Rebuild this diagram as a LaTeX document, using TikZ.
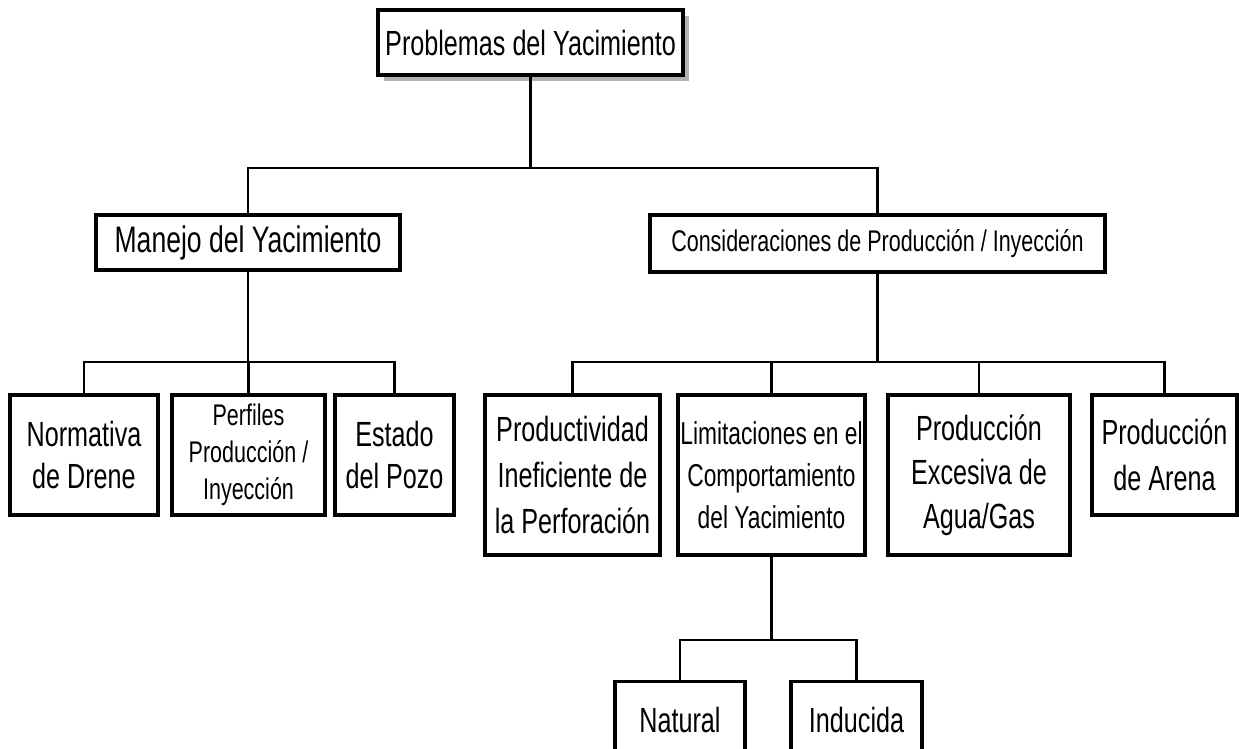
\documentclass[tikz,border=0pt]{standalone}
\usepackage{fontspec}
\setmainfont[FakeStretch=0.72]{Liberation Sans}
\usetikzlibrary{shadows}

\begin{document}
\begin{tikzpicture}[x=0.02cm, y=-0.02cm,
    box/.style={rectangle, draw, line width=2.1pt, fill=white, align=center, inner sep=0pt},
    shadowbox/.style={box, drop shadow={shadow xshift=3.5pt, shadow yshift=-3.5pt, fill=black!30, opacity=1}},
    big/.style={font=\fontsize{19.9}{24}\selectfont},
    mid/.style={font=\fontsize{17}{21}\selectfont},
    link/.style={line width=1.5pt}
]
\useasboundingbox (0,0) rectangle (1239,748);

% Top level
\node[shadowbox, big, minimum width=6.10cm, minimum height=1.30cm] (top) at (530.5,42.5) {Problemas del Yacimiento};

% Second level
\node[box, font=\fontsize{21}{25}\selectfont, minimum width=6.08cm, minimum height=1.10cm] (manejo) at (248,242.5) {Manejo del Yacimiento};
\node[box, mid, minimum width=9.10cm, minimum height=1.14cm] (cons) at (877.5,243.5) {Consideraciones de Producción / Inyección};

% Children of Manejo
\node[box, big, minimum width=2.96cm, minimum height=2.40cm] (normativa) at (84,455) {Normativa\\de Drene};
\node[box, mid, minimum width=3.06cm, minimum height=2.40cm] (perfiles) at (248.5,455) {Perfiles\\Producción /\\Inyección};
\node[box, big, minimum width=2.38cm, minimum height=2.40cm] (estado) at (394.5,455) {Estado\\del Pozo};

% Children of Consideraciones
\node[box, font=\fontsize{19.9}{26}\selectfont, minimum width=3.50cm, minimum height=3.20cm] (productividad) at (572.5,475) {Productividad\\Ineficiente de\\la Perforación};
\node[box, font=\fontsize{18}{24}\selectfont, minimum width=3.74cm, minimum height=3.20cm] (limitaciones) at (771.5,475) {Limitaciones en el\\Comportamiento\\del Yacimiento};
\node[box, font=\fontsize{19.9}{25}\selectfont, minimum width=3.64cm, minimum height=3.20cm] (excesiva) at (979,475) {Producción\\Excesiva de\\Agua/Gas};
\node[box, font=\fontsize{19.9}{26}\selectfont, minimum width=2.90cm, minimum height=2.40cm] (arena) at (1164.5,455) {Producción\\de Arena};

% Children of Limitaciones
\node[box, big, minimum width=2.60cm, minimum height=1.54cm] (natural) at (680,720) {Natural};
\node[box, big, minimum width=2.62cm, minimum height=1.54cm] (inducida) at (856.5,720) {Inducida};

% Connectors
\coordinate (bartop) at (528,168);
\coordinate (barman) at (248,362);
\coordinate (barcons) at (877.5,362);
\coordinate (barlim) at (771.5,640);

\draw[link] (top.south) -- (top.south |- bartop);
\draw[link] (manejo.north) |- (bartop) -| (cons.north);

\draw[link] (manejo.south) -- (barman);
\draw[link] (normativa.north) |- (barman) -| (estado.north);
\draw[link] (perfiles.north) -- (perfiles.north |- barman);

\draw[link] (cons.south) -- (barcons);
\draw[link] (productividad.north) |- (barcons) -| (arena.north);
\draw[link] (limitaciones.north) -- (limitaciones.north |- barcons);
\draw[link] (excesiva.north) -- (excesiva.north |- barcons);

\draw[link] (limitaciones.south) -- (barlim);
\draw[link] (natural.north) |- (barlim) -| (inducida.north);
\end{tikzpicture}
\end{document}
